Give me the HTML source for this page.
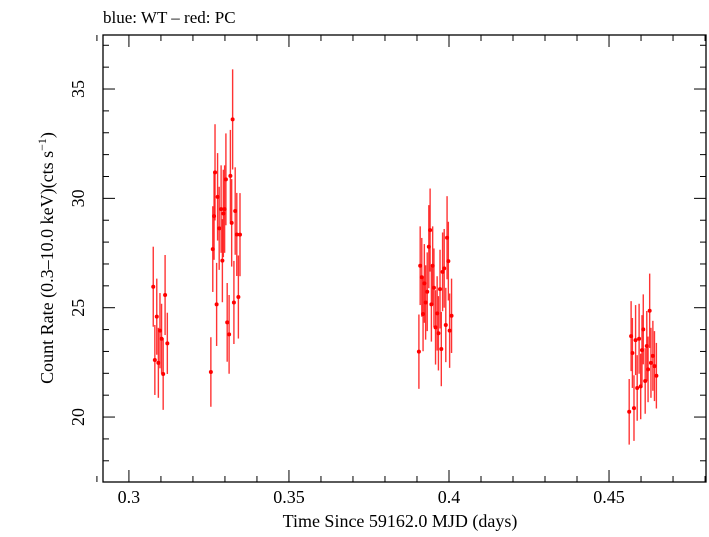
<!DOCTYPE html>
<html><head><meta charset="utf-8"><style>
body{margin:0;background:#fff;}
svg text{font-family:"Liberation Serif",serif;fill:#000;}
</style></head><body>
<svg id="chart" width="709" height="532" xmlns="http://www.w3.org/2000/svg">
<text x="103" y="23" font-size="17">blue: WT – red: PC</text>
<rect x="103" y="35" width="603" height="447" fill="none" stroke="#000" stroke-width="1.3"/>
<g id="ticks"></g>
<g id="marks"></g>
<text x="400" y="527" font-size="18" text-anchor="middle">Time Since 59162.0 MJD (days)</text>
<text transform="translate(53,258) rotate(-90)" font-size="18" text-anchor="middle">Count Rate (0.3–10.0 keV)(cts s<tspan font-size="12" dy="-7">−1</tspan><tspan dy="7">)</tspan></text>
</svg>
<script>
const times=[0.3076,0.3081,0.3087,0.3092,0.3097,0.3102,0.3107,0.3113,0.3120,
0.3256,0.3262,0.3266,0.3269,0.3274,0.3277,0.3282,0.3288,0.3292,0.3295,0.3299,0.3303,0.3307,0.3313,0.3317,0.3321,0.3324,0.3328,0.3332,0.3337,0.3342,0.3347,
0.3906,0.3910,0.3915,0.3919,0.3923,0.3927,0.3932,0.3937,0.3941,0.3945,0.3949,0.3953,0.3958,0.3963,0.3967,0.3972,0.3976,0.3980,0.3985,0.3990,0.3994,0.3998,0.4002,0.4008,
0.4563,0.4569,0.4573,0.4578,0.4583,0.4588,0.4594,0.4599,0.4603,0.4607,0.4613,0.4618,0.4622,0.4627,0.4631,0.4637,0.4642,0.4648];
const rates=[25.96,22.61,24.59,22.48,23.95,23.58,21.97,25.58,23.37,
22.06,27.68,29.19,31.19,25.15,30.07,28.63,29.51,27.15,29.31,29.51,30.87,24.33,23.78,31.03,28.88,33.61,25.24,29.42,28.35,25.49,28.34,
22.99,26.92,26.39,24.71,26.11,25.24,25.73,27.79,28.55,25.15,26.92,25.91,24.10,24.74,23.83,25.85,23.11,26.64,26.80,24.21,28.20,27.13,23.95,24.63,
20.24,23.70,22.93,20.41,23.52,21.33,23.58,21.40,23.06,24.01,21.65,23.25,22.18,24.86,22.48,22.80,22.33,21.89];
const errors=[1.83,1.6,1.74,1.6,1.72,1.6,1.64,1.83,1.4,
1.59,1.96,2.0,2.2,1.9,2.0,1.9,2.0,1.9,2.0,2.0,2.1,1.8,1.8,2.1,2.0,2.29,1.9,2.0,1.9,1.9,1.9,
1.7,1.8,1.8,1.7,1.8,1.7,1.8,1.9,1.9,1.7,1.8,1.8,1.7,1.7,1.7,1.8,1.7,1.8,1.8,1.7,1.9,1.8,1.7,1.7,
1.5,1.6,1.6,1.5,1.6,1.5,1.6,1.5,1.6,1.6,1.5,1.6,1.5,1.7,1.6,1.6,1.6,1.5];
const xTicks=[0.3,0.35,0.4,0.45];
const xTickLabels=["0.3","0.35","0.4","0.45"];
const yTicks=[20,25,30,35];
const yTickLabels=["20","25","30","35"];
const X0=103,X1=706,Y0=35,Y1=482,XMIN=0.2919,XMAX=0.4803,YMIN=17.03,YMAX=37.47;
function xs(t){return X0+(t-XMIN)/(XMAX-XMIN)*(X1-X0);}
function ys(v){return Y1-(v-YMIN)/(YMAX-YMIN)*(Y1-Y0);}
const NS="http://www.w3.org/2000/svg";
function mk(tag,attrs,parent){const e=document.createElementNS(NS,tag);for(const k in attrs)e.setAttribute(k,attrs[k]);parent.appendChild(e);return e;}
const tg=document.getElementById('ticks'),mg=document.getElementById('marks');
for(let i=29;i<=48;i++){const t=i/100,x=xs(t),major=xTicks.some(v=>Math.abs(v-t)<1e-9),L=major?12:6;
 const a=mk('line',{x1:x,x2:x,y1:Y1,y2:Y1-L,stroke:'#000','stroke-width':1},tg);
 
 
 const b=mk('line',{x1:x,x2:x,y1:Y0,y2:Y0+L,stroke:'#000','stroke-width':1},tg);
 
 }
xTicks.forEach((t,i)=>{const e=mk('text',{x:xs(t),y:503,'font-size':18,'text-anchor':'middle'},tg);e.textContent=xTickLabels[i];
 
 });
for(let v=18;v<=37;v++){const y=ys(v),major=yTicks.includes(v),L=major?12:6;
 const a=mk('line',{x1:X0,x2:X0+L,y1:y,y2:y,stroke:'#000','stroke-width':1},tg);
 
 
 const b=mk('line',{x1:X1,x2:X1-L,y1:y,y2:y,stroke:'#000','stroke-width':1},tg);
 
 }
yTicks.forEach((v,i)=>{const e=mk('text',{transform:`translate(84,${ys(v)}) rotate(-90)`,'font-size':18,'text-anchor':'middle'},tg);e.textContent=yTickLabels[i];
 
 });
times.forEach((t,i)=>{const x=xs(t),y=ys(rates[i]);
 const l=mk('line',{x1:x,x2:x,y1:ys(rates[i]+errors[i]),y2:ys(rates[i]-errors[i]),stroke:'#f00','stroke-width':1.4,'stroke-opacity':0.8},mg);
 
 
 const c=mk('circle',{cx:x,cy:y,r:2,fill:'#f00'},mg);
 
 });
</script>
</body></html>
